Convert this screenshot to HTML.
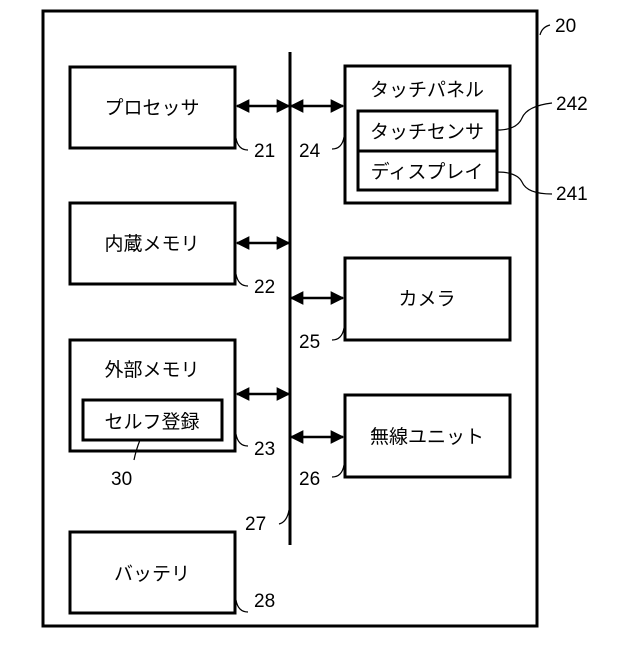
<!DOCTYPE html>
<html><head><meta charset="utf-8"><style>body{margin:0;background:#fff}</style></head><body>
<svg width="640" height="640" viewBox="0 0 640 640" xmlns="http://www.w3.org/2000/svg">
<defs><marker id="a" viewBox="0 0 10 10" refX="9" refY="5" markerWidth="5.5" markerHeight="5.5" orient="auto-start-reverse"><path d="M0,0L10,5L0,10z" fill="#000"/></marker></defs>
<g fill="none" stroke="#000" stroke-width="3">
<rect x="43" y="11" width="494" height="615"/>
<rect x="70" y="67" width="165" height="81"/>
<rect x="70" y="203" width="165" height="81"/>
<rect x="70" y="340" width="165" height="111"/>
<rect x="83" y="400" width="139" height="40"/>
<rect x="70" y="532" width="165" height="81"/>
<rect x="345" y="66" width="165" height="137"/>
<rect x="358" y="111" width="139" height="40"/>
<rect x="358" y="151" width="139" height="39"/>
<rect x="345" y="258" width="165" height="82"/>
<rect x="345" y="395" width="165" height="82"/>
<line x1="290" y1="52" x2="290" y2="545"/>
</g>
<g stroke="#000" stroke-width="2.5" marker-start="url(#a)" marker-end="url(#a)">
<line x1="237" y1="106" x2="289" y2="106"/>
<line x1="291" y1="106" x2="343" y2="106"/>
<line x1="237" y1="243" x2="289" y2="243"/>
<line x1="291" y1="298" x2="343" y2="298"/>
<line x1="237" y1="394" x2="289" y2="394"/>
<line x1="291" y1="437" x2="343" y2="437"/>
</g>
<g fill="none" stroke="#000" stroke-width="1.2">
<path d="M540,35 q2,-8 10,-10"/>
<path d="M236,138 q2,12 12,12"/>
<path d="M236,274 q2,12 12,12"/>
<path d="M236,434 q2,12 12,12"/>
<path d="M236,600 q2,12 12,12"/>
<path d="M344,137 q-2,12 -12,12"/>
<path d="M344,328 q-2,12 -12,12"/>
<path d="M344,465 q-2,12 -12,12"/>
<path d="M289,510 q-2,12 -10,14"/>
<path d="M140,440 q-4,10 -6,20"/>
<path d="M497,130 q20,0 25,-12 q5,-12 30,-15"/>
<path d="M497,172 q20,0 25,10 q5,12 30,12"/>
</g>
<g font-family="Liberation Sans, Noto Sans CJK JP, sans-serif" font-size="19" fill="#000">
<g text-anchor="middle">
<text x="152" y="114">プロセッサ</text>
<text x="152" y="250">内蔵メモリ</text>
<text x="152" y="376">外部メモリ</text>
<text x="152" y="428">セルフ登録</text>
<text x="152" y="580">バッテリ</text>
<text x="427" y="96">タッチパネル</text>
<text x="427" y="138">タッチセンサ</text>
<text x="427" y="178">ディスプレイ</text>
<text x="427" y="305">カメラ</text>
<text x="427" y="443">無線ユニット</text>
</g>
<text x="555" y="32">20</text>
<text x="556" y="110">242</text>
<text x="556" y="200">241</text>
<text x="254" y="157">21</text>
<text x="254" y="293">22</text>
<text x="254" y="455">23</text>
<text x="254" y="607">28</text>
<text x="299" y="157">24</text>
<text x="299" y="348">25</text>
<text x="299" y="485">26</text>
<text x="245" y="530">27</text>
<text x="111" y="485">30</text>
</g>
</svg>
</body></html>
